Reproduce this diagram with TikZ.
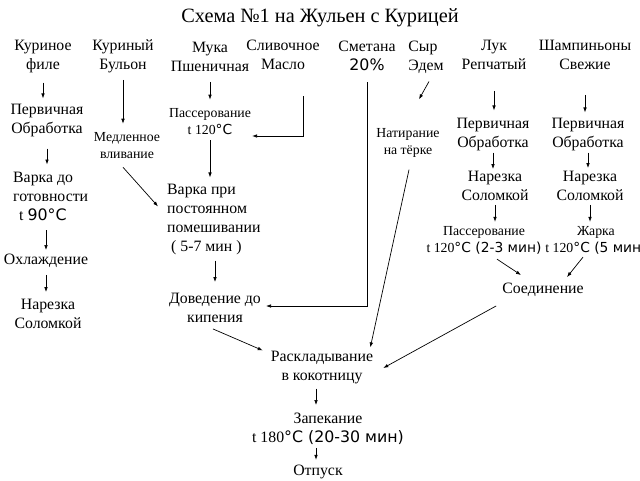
\documentclass[tikz,border=0pt]{standalone}
\usepackage{fontspec}
\setmainfont{Liberation Serif}
\newfontfamily\degsans{DejaVu Sans}
\usetikzlibrary{arrows.meta}
\newcommand{\sns}[1]{{\degsans #1}}
\tikzset{
  lbl/.style={align=center,inner sep=1pt,font=\fontsize{15.8}{19}\selectfont},
  sml/.style={align=center,inner sep=1pt,font=\fontsize{13.8}{17}\selectfont},
  arr/.style={-{Latex[length=5pt,width=3.6pt]},line width=0.7pt},
  gap/.style 2 args={shorten <=#1pt,shorten >=#2pt}
}
\begin{document}
\begin{tikzpicture}[x=1pt,y=-1pt]
      \useasboundingbox (0,0) rectangle (640,480);
      \draw
        (320,18) node[font=\fontsize{20.3}{24}\selectfont] (title) {Схема №1 на Жульен с Курицей}
        (43,57) node[lbl] (kur) {Куриное\\филе}
        (123,56) node[lbl] (bul) {Куриный\\Бульон}
        (210,57) node[lbl] (muka) {Мука\\Пшеничная}
        (283,55) node[lbl] (maslo) {Сливочное\\Масло}
        (367,56) node[lbl] (smet) {Сметана\\\sns{20\%}}
        (426,57) node[lbl,align=left] (syr) {Сыр\\Эдем}
        (494,55) node[lbl] (luk) {Лук\\Репчатый}
        (585,55) node[lbl] (sham) {Шампиньоны\\Свежие}
        (47,121) node[lbl] (perv1) {Первичная\\Обработка}
        (127,146) node[sml] (medl) {Медленное\\вливание}
        (210,122) node[sml] (pass1) {Пассерование\\t 120\sns{°C}}
        (408,143) node[sml] (nat) {Натирание\\на тёрке}
        (493,135) node[lbl] (perv2) {Первичная\\Обработка}
        (588,135) node[lbl] (perv3) {Первичная\\Обработка}
        (12,196) node[lbl,anchor=west,align=left] (varka1) {Варка до\\готовности\\\hspace*{6pt}t \sns{90°C}}
        (166,220) node[lbl,anchor=west,align=left] (varka2) {Варка при\\постоянном\\помешивании\\\hspace*{4pt}( 5-7 мин )}
        (495,186) node[lbl] (nar2) {Нарезка\\Соломкой}
        (590,186) node[lbl] (nar3) {Нарезка\\Соломкой}
        (46,261) node[lbl] (ohl) {Охлаждение}
        (484,240) node[sml] (pass2) {Пассерование\\t 120\sns{°C (2-3 мин)}}
        (596,240) node[sml] (zhar) {Жарка\\t 120\sns{°C (5 мин)}}
        (48,314) node[lbl] (nar1) {Нарезка\\Соломкой}
        (215,308) node[lbl] (dov) {Доведение до\\кипения}
        (543,290) node[lbl] (soed) {Соединение}
        (322,368) node[lbl] (rask) {Раскладывание\\в кокотницу}
        (328,429) node[lbl] (zap) {Запекание\\t 180\sns{°C (20-30 мин)}}
        (318,472) node[lbl] (otp) {Отпуск};
      \begin{scope}[arr]
        \draw[gap={8}{5}] (kur.south) -- (kur.south |- perv1.north);
        \draw[gap={10}{6}] (perv1.south) -- (perv1.south |- varka1.north);
        \draw[gap={9}{3}] (ohl.north |- varka1.south) -- (ohl.north);
        \draw[gap={6}{6}] (ohl.south) -- (ohl.south |- nar1.north);
        \draw[gap={6}{8}] (bul.south) -- (bul.south |- medl.north);
        \draw[gap={9}{8}] (muka.south) -- (muka.south |- pass1.north);
        \draw[gap={4}{6}] (pass1.south) -- (pass1.south |- varka2.north);
        \draw[gap={4}{10}] (dov.north |- varka2.south) -- (dov.north);
        \draw[gap={20}{7}] (luk.south) -- (luk.south |- perv2.north);
        \draw[gap={0}{1}] (perv2.south) -- (perv2.south |- nar2.north);
        \draw[gap={3}{3}] (nar2.south) -- (nar2.south |- pass2.north);
        \draw[gap={24}{5}] (sham.south) -- (sham.south |- perv3.north);
        \draw[gap={0}{2}] (perv3.south) -- (perv3.south |- nar3.north);
        \draw[gap={3}{3}] (nar3.south) -- (nar3.south |- zhar.north);
        \draw[gap={3}{7}] ([xshift=-6pt]rask.south) -- ([xshift=-6pt]rask.south |- zap.north);
        \draw[gap={2}{4}] ([xshift=-2pt]otp.north |- zap.south) -- ([xshift=-2pt]otp.north);
        \draw ([xshift=20pt,yshift=-25pt]maslo.south) |- ([yshift=-14pt]pass1.east);
        \draw ([yshift=-10pt]smet.south) |- ([xshift=4pt,yshift=2pt]dov.east);
        \draw ([xshift=-4pt,yshift=-7pt]medl.south) -- ([xshift=-8pt,yshift=-23pt]varka2.north west);
        \draw ([xshift=-2pt,yshift=-5pt]dov.south) -- ([xshift=-7pt]rask.north west);
        \draw ([xshift=3pt,yshift=-7pt]syr.south) -- ([xshift=11pt,yshift=28pt]nat.north);
        \draw ([xshift=1pt,yshift=-11pt]nat.south) -- ([xshift=-4pt,yshift=3pt]rask.north east);
        \draw ([xshift=13pt,yshift=-4pt]pass2.south) -- ([xshift=-22pt,yshift=7pt]soed.north);
        \draw ([xshift=-13pt,yshift=-2pt]zhar.south) -- ([xshift=24pt,yshift=5pt]soed.north);
        \draw ([xshift=-5pt,yshift=-8pt]soed.south west) -- ([xshift=9pt]rask.east);
      \end{scope}
    \end{tikzpicture}
\end{document}
